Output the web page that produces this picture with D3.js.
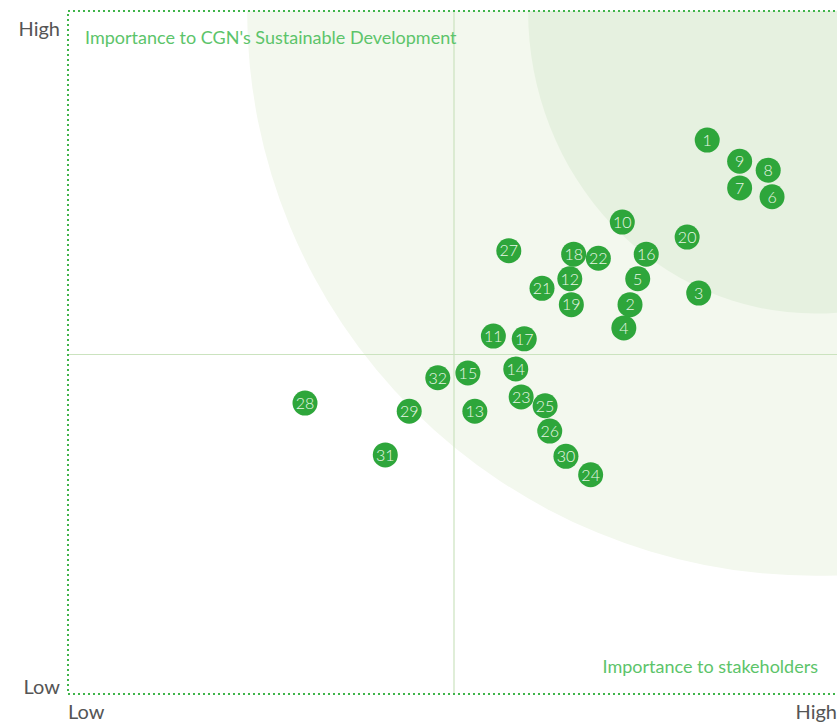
<!DOCTYPE html>
<html>
<head>
<meta charset="utf-8">
<script src="https://cdn.jsdelivr.net/npm/d3@7"></script>
<style>
  html, body { margin: 0; padding: 0; background: #fff; }
  svg { display: block; font-family: Lato, "Open Sans", sans-serif; }
</style>
</head>
<body>
<svg id="matrix"></svg>
<script>
(function() {

// topic ids and their scores (0-10) on both axes
const topicIds = [1, 9, 8, 7, 6, 10, 20, 27, 18, 22, 16, 12, 5, 21, 3, 19, 2, 4,
                  11, 17, 32, 15, 14, 28, 29, 13, 23, 25, 26, 31, 30, 24];
const stakeholderScore = [8.28, 8.70, 9.07, 8.70, 9.12, 7.18, 8.02, 5.71, 6.55, 6.87, 7.49, 6.50, 7.38, 6.14, 8.17, 6.52, 7.28, 7.20,
                          5.51, 5.91, 4.79, 5.18, 5.80, 3.07, 4.42, 5.27, 5.87, 6.18, 6.24, 4.11, 6.45, 6.77];
const cgnScore = [8.11, 7.80, 7.67, 7.41, 7.28, 6.91, 6.69, 6.49, 6.44, 6.38, 6.44, 6.08, 6.08, 5.94, 5.87, 5.70, 5.70, 5.36,
                  5.24, 5.20, 4.63, 4.70, 4.76, 4.26, 4.14, 4.14, 4.35, 4.22, 3.85, 3.50, 3.48, 3.21];

// background zones (elliptic bands around the top-right)
const zoneCenter = [9.68, 10];
const zoneRadiusX = [7.36, 3.72];
const zoneRadiusY = [8.27, 4.43];
const zoneColors = ['#f3f8ee', '#e6f1e0'];

const axisDomain = [0, 10];
const midValue = 5;
const tickLabels = ['Low', 'High'];

const width = 837, height = 725;
const margin = { top: 11, right: -3, bottom: 31, left: 68 };

const svg = d3.select('#matrix')
    .attr('width', width)
    .attr('height', height);

const x = d3.scaleLinear()
    .domain(axisDomain)
    .range([margin.left, width - margin.right]);
const y = d3.scaleLinear()
    .domain(axisDomain)
    .range([height - margin.bottom, margin.top]);

svg.append('clipPath').attr('id', 'plotClip')
  .append('rect')
    .attr('x', x(0)).attr('y', y(10))
    .attr('width', x(10) - x(0)).attr('height', y(0) - y(10));

// zones
svg.append('g')
    .attr('clip-path', 'url(#plotClip)')
  .selectAll('ellipse')
  .data(zoneRadiusX)
  .enter().append('ellipse')
    .attr('cx', x(zoneCenter[0]))
    .attr('cy', y(zoneCenter[1]))
    .attr('rx', d => x(d) - x(0))
    .attr('ry', (d, i) => y(0) - y(zoneRadiusY[i]))
    .attr('fill', (d, i) => zoneColors[i]);

// quadrant lines
svg.append('line')
    .attr('x1', x(midValue)).attr('x2', x(midValue))
    .attr('y1', y(10)).attr('y2', y(0))
    .attr('stroke', '#cbe3bf').attr('stroke-width', 1.2);
svg.append('line')
    .attr('x1', x(0)).attr('x2', x(10))
    .attr('y1', y(midValue) + 2).attr('y2', y(midValue) + 2)
    .attr('stroke', '#cbe3bf').attr('stroke-width', 1.2);

// dotted frame
svg.append('rect')
    .attr('x', x(0)).attr('y', y(10))
    .attr('width', x(10) - x(0)).attr('height', y(0) - y(10))
    .attr('fill', 'none')
    .attr('stroke', '#3fb54a')
    .attr('stroke-width', 2)
    .attr('stroke-dasharray', '2,3');

// axis titles inside the plot
svg.append('text')
    .attr('x', x(0) + 17).attr('y', y(10) + 33)
    .attr('fill', '#5cc46a')
    .style('font-size', '18px')
    .text("Importance to CGN's Sustainable Development");
svg.append('text')
    .attr('x', 818).attr('y', y(0) - 21)
    .attr('text-anchor', 'end')
    .attr('fill', '#5cc46a')
    .style('font-size', '18px')
    .text('Importance to stakeholders');

// low/high labels
svg.selectAll('.ylab')
  .data(tickLabels)
  .enter().append('text')
    .attr('class', 'ylab')
    .attr('x', x(0) - 8)
    .attr('y', (d, i) => i ? y(10) + 25 : y(0))
    .attr('text-anchor', 'end')
    .attr('fill', '#555')
    .style('font-size', '20px')
    .text(d => d);
svg.selectAll('.xlab')
  .data(tickLabels)
  .enter().append('text')
    .attr('class', 'xlab')
    .attr('x', (d, i) => i ? width : x(0))
    .attr('y', y(0) + 25)
    .attr('text-anchor', (d, i) => i ? 'end' : 'start')
    .attr('fill', '#555')
    .style('font-size', '20px')
    .text(d => d);

// topic markers
const topics = topicIds.map((id, i) => ({ id, sx: stakeholderScore[i], cy: cgnScore[i] }));
const marks = svg.selectAll('.topic')
  .data(topics)
  .enter().append('g')
    .attr('class', 'topic')
    .attr('transform', d => `translate(${x(d.sx)},${y(d.cy)})`);
marks.append('circle')
    .attr('r', 12.5)
    .attr('fill', '#2ea63b');
marks.append('text')
    .attr('text-anchor', 'middle')
    .attr('dy', '0.36em')
    .attr('fill', '#e9f6e6')
    .style('font-size', '16px')
    .style('font-weight', 300)
    .text(d => d.id);

})();
</script>
</body>
</html>
